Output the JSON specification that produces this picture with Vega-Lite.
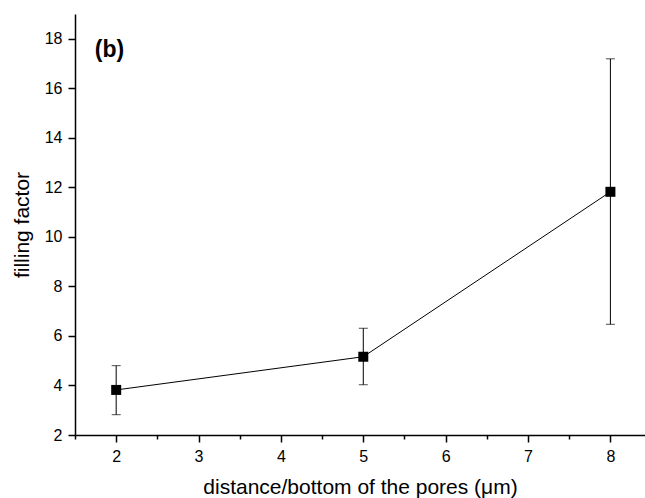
{
  "$schema": "https://vega.github.io/schema/vega-lite/v6.json",
  "width": 570,
  "height": 421,
  "autosize": {"type": "none"},
  "padding": {"left": 75, "top": 14, "right": 0, "bottom": 63},
  "background": "white",
  "config": {
    "view": {"stroke": null},
    "font": "Liberation Sans",
    "axis": {
      "domainColor": "black",
      "domainWidth": 1.5,
      "tickColor": "black",
      "tickWidth": 1.5,
      "labelColor": "black",
      "titleColor": "black",
      "labelFontSize": 16,
      "titleFontSize": 21,
      "titleFontWeight": "normal",
      "grid": false
    }
  },
  "data": {
    "values": [
      {"d": 2, "f": 3.82, "lo": 2.82, "hi": 4.8},
      {"d": 5, "f": 5.16, "lo": 4.03, "hi": 6.31},
      {"d": 8, "f": 11.82, "lo": 6.47, "hi": 17.19}
    ]
  },
  "layer": [
    {
      "mark": {"type": "line", "color": "black", "strokeWidth": 1},
      "encoding": {
        "x": {
          "field": "d", "type": "quantitative",
          "scale": {"domain": [1.5, 8.42], "nice": false, "zero": false},
          "axis": {
            "title": "distance/bottom of the pores (μm)",
            "values": [1.5, 2, 2.5, 3, 3.5, 4, 4.5, 5, 5.5, 6, 6.5, 7, 7.5, 8],
            "labelExpr": "datum.value % 1 == 0 ? format(datum.value, 'd') : ''",
            "tickSize": {"condition": {"test": "datum.value % 1 == 0", "value": 7}, "value": 4},
            "labelPadding": 6,
            "titlePadding": 12
          }
        },
        "y": {
          "field": "f", "type": "quantitative",
          "scale": {"domain": [2, 19], "nice": false, "zero": false},
          "axis": {
            "title": "filling factor",
            "values": [2, 3, 4, 5, 6, 7, 8, 9, 10, 11, 12, 13, 14, 15, 16, 17, 18, 19],
            "labelExpr": "datum.value % 2 == 0 && datum.value < 19 ? format(datum.value, 'd') : ''",
            "tickSize": {"condition": {"test": "datum.value % 2 == 0", "value": 7}, "value": 4},
            "labelPadding": 6,
            "titlePadding": 12
          }
        }
      }
    },
    {
      "mark": {"type": "rule", "color": "black", "strokeWidth": 1},
      "encoding": {
        "x": {"field": "d", "type": "quantitative"},
        "y": {"field": "lo", "type": "quantitative"},
        "y2": {"field": "hi"}
      }
    },
    {
      "mark": {"type": "tick", "orient": "horizontal", "color": "black", "size": 9, "thickness": 1},
      "encoding": {
        "x": {"field": "d", "type": "quantitative"},
        "y": {"field": "lo", "type": "quantitative"}
      }
    },
    {
      "mark": {"type": "tick", "orient": "horizontal", "color": "black", "size": 9, "thickness": 1},
      "encoding": {
        "x": {"field": "d", "type": "quantitative"},
        "y": {"field": "hi", "type": "quantitative"}
      }
    },
    {
      "mark": {"type": "square", "color": "black", "size": 100, "opacity": 1, "filled": true},
      "encoding": {
        "x": {"field": "d", "type": "quantitative"},
        "y": {"field": "f", "type": "quantitative"}
      }
    },
    {
      "data": {"values": [{"x": 1.74, "y": 17.56, "t": "(b)"}]},
      "mark": {"type": "text", "align": "left", "baseline": "middle", "fontSize": 23, "fontWeight": "bold", "color": "black"},
      "encoding": {
        "x": {"field": "x", "type": "quantitative"},
        "y": {"field": "y", "type": "quantitative"},
        "text": {"field": "t"}
      }
    }
  ]
}
